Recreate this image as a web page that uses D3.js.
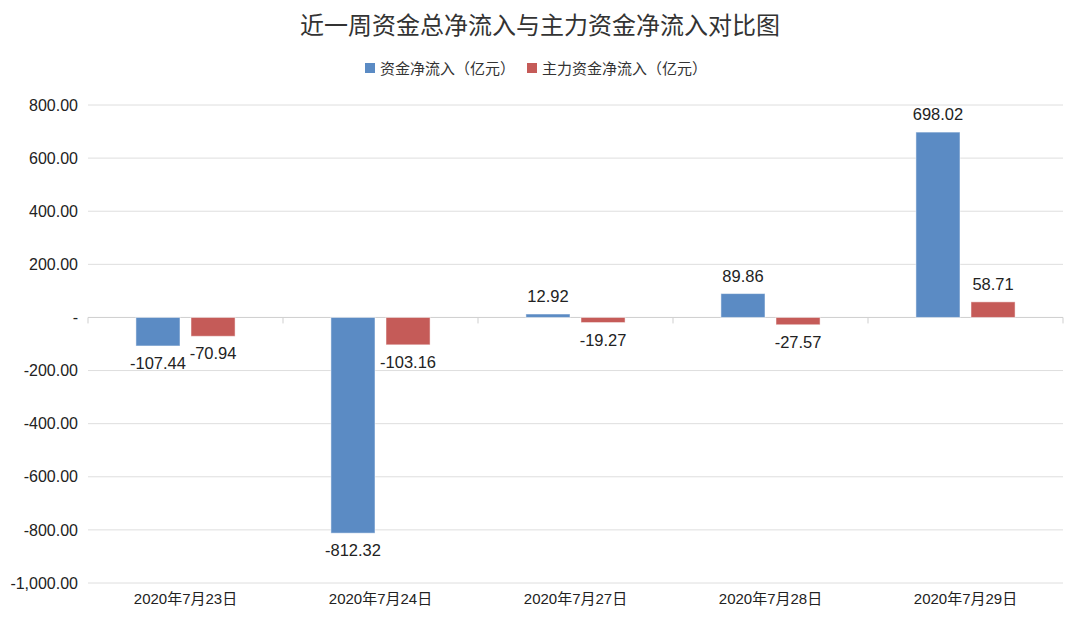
<!DOCTYPE html>
<html>
<head>
<meta charset="utf-8">
<script src="https://cdn.jsdelivr.net/npm/d3@7"></script>
<style>
  body { margin: 0; background: #fff; }
  text { font-family: Helvetica, Arial, "Liberation Sans", "Noto Sans CJK SC", sans-serif; }
  .cjk { font-family: "Noto Sans CJK SC", sans-serif; }
</style>
</head>
<body>
<svg id="chart" width="1080" height="622"></svg>
<script>
var dates = ["2020年7月23日", "2020年7月24日", "2020年7月27日", "2020年7月28日", "2020年7月29日"];
var totalFlow = [-107.44, -812.32, 12.92, 89.86, 698.02];
var mainFlow = [-70.94, -103.16, -19.27, -27.57, 58.71];
var seriesNames = ["资金净流入（亿元）", "主力资金净流入（亿元）"];
var seriesColors = ["#5b8bc4", "#c55b58"];
var yTicks = [800, 600, 400, 200, 0, -200, -400, -600, -800, -1000];

var svg = d3.select("#chart");
var plotLeft = 88, plotRight = 1063, plotTop = 105, plotBottom = 583;

var x = d3.scaleBand().domain(dates).range([plotLeft, plotRight]).padding(0);
var x1 = d3.scaleBand().domain([0, 1]).range([0, x.bandwidth()])
    .paddingInner(0.2).paddingOuter(0.87);
var y = d3.scaleLinear().domain([-1000, 800]).range([plotBottom, plotTop]);

// plain hyphen for negatives, like the original
var locale = d3.formatLocale({ decimal: ".", thousands: ",", grouping: [3], currency: ["", ""], minus: "-" });
var fmt = locale.format(",.2f");

// title
svg.append("text")
    .attr("class", "cjk")
    .attr("x", 540).attr("y", 34)
    .attr("text-anchor", "middle")
    .attr("font-size", "24px")
    .attr("fill", "#333")
    .text("近一周资金总净流入与主力资金净流入对比图");

// legend
var legendX = [365, 527];
seriesNames.forEach(function (name, i) {
    svg.append("rect")
        .attr("x", legendX[i]).attr("y", 63)
        .attr("width", 10).attr("height", 10)
        .attr("fill", seriesColors[i]);
    svg.append("text")
        .attr("class", "cjk")
        .attr("x", legendX[i] + 15).attr("y", 74)
        .attr("font-size", "15px")
        .attr("fill", "#333")
        .text(name);
});

// grid lines
svg.append("g").selectAll("line")
    .data(yTicks)
    .enter().append("line")
    .attr("x1", plotLeft).attr("x2", plotRight)
    .attr("y1", function (d) { return y(d); })
    .attr("y2", function (d) { return y(d); })
    .attr("stroke", function (d) { return d == 0 ? "#cfcfcf" : "#dedede"; })
    .attr("stroke-width", 1);

// y axis labels
var yAxis = d3.axisLeft(y)
    .tickValues(yTicks)
    .tickSize(0)
    .tickPadding(10)
    .tickFormat(function (d) { return d == 0 ? "-" : fmt(d); });
var yg = svg.append("g").attr("transform", "translate(" + plotLeft + ",0)").call(yAxis);
yg.select(".domain").remove();
yg.selectAll("text").attr("font-size", "16px").attr("fill", "#222")
    .attr("font-family", "Helvetica, Arial, 'Liberation Sans', sans-serif");

// category ticks on zero line
var bounds = dates.map(function (d) { return x(d); }).concat([plotRight]);
svg.append("g").selectAll("line")
    .data(bounds)
    .enter().append("line")
    .attr("x1", function (d) { return d; })
    .attr("x2", function (d) { return d; })
    .attr("y1", y(0)).attr("y2", y(0) + 6)
    .attr("stroke", "#cfcfcf");

// x labels
var xAxis = d3.axisBottom(x).tickSize(0).tickPadding(0);
var xg = svg.append("g").attr("transform", "translate(0," + (plotBottom + 10) + ")").call(xAxis);
xg.select(".domain").remove();
xg.selectAll("text")
    .attr("font-size", "15px").attr("fill", "#222")
    .attr("font-family", "Helvetica, Arial, 'Liberation Sans', 'Noto Sans CJK SC', sans-serif");

// bars
var series = [totalFlow, mainFlow];
series.forEach(function (vals, s) {
    var g = svg.append("g");
    g.selectAll("rect")
        .data(vals)
        .enter().append("rect")
        .attr("x", function (d, i) { return x(dates[i]) + x1(s); })
        .attr("width", x1.bandwidth())
        .attr("y", function (d) { return y(Math.max(0, d)); })
        .attr("height", function (d) { return Math.abs(y(d) - y(0)); })
        .attr("fill", seriesColors[s])
        .attr("stroke", "#ffffff")
        .attr("stroke-opacity", 0.5)
        .attr("stroke-width", 1);

    g.selectAll("text")
        .data(vals)
        .enter().append("text")
        .attr("x", function (d, i) { return x(dates[i]) + x1(s) + x1.bandwidth() / 2; })
        .attr("y", function (d) { return d >= 0 ? y(d) - 12 : y(d) + 23; })
        .attr("text-anchor", "middle")
        .attr("font-size", "16.5px")
        .attr("fill", "#222")
        .text(function (d) { return fmt(d); });
});
</script>
</body>
</html>
